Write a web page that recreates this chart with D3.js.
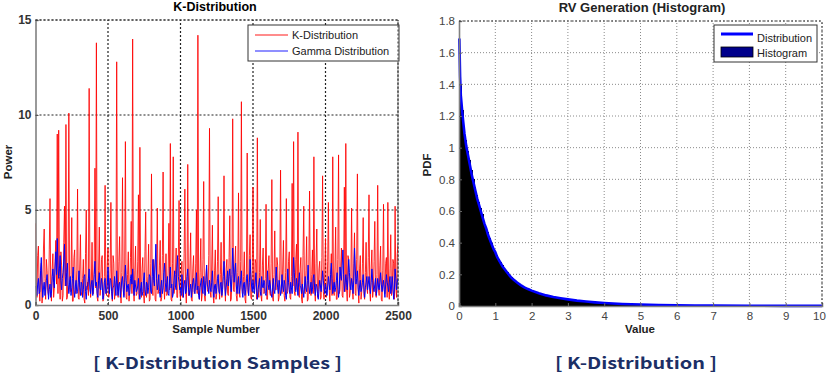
<!DOCTYPE html>
<html>
<head>
<meta charset="utf-8">
<script src="https://cdn.jsdelivr.net/npm/d3@7"></script>
<style>
body { margin: 0; background: #fff; }
svg { display: block; }
</style>
</head>
<body>
<div id="chart"></div>
<script>
// left panel: samples every 5th sample number
const sampleStep = 5;
const kSamples = [
  4.3,1.2,0.4,2.6,3.1,0.9,0.2,1.7,2.2,0.1,0.6,3.0,4.0,1.4,0.3,2.4,1.8,0.7,0.5,2.9,
  5.6,0.8,0.2,1.9,2.7,0.4,0.9,2.3,3.4,1.1,9.0,0.6,9.2,1.5,0.3,2.8,2.1,0.2,0.5,3.3,
  5.2,1.0,9.5,0.3,0.4,2.1,10.1,0.9,0.7,1.6,4.6,0.2,0.2,2.5,2.9,0.6,0.8,1.8,6.1,0.4,
  0.3,2.0,3.7,0.7,0.5,1.4,2.4,0.3,0.1,2.7,5.0,0.8,1.2,0.5,11.4,1.9,0.4,1.1,3.3,0.6,
  0.6,2.2,7.2,0.9,13.8,0.4,0.2,1.8,4.1,0.5,0.9,2.4,2.6,0.2,0.3,1.5,6.3,0.8,0.5,2.1,
  3.0,0.4,0.7,1.9,5.4,0.6,0.2,2.6,2.2,0.3,0.6,1.3,12.8,0.7,0.4,2.3,3.6,0.9,0.1,1.7,
  6.7,1.1,0.5,2.0,8.6,0.4,0.3,1.6,2.8,0.2,0.8,2.5,4.4,0.6,14.0,1.0,0.2,1.8,3.1,0.5,
  0.6,2.3,5.8,0.3,8.3,1.2,0.4,1.9,2.5,0.6,0.1,2.8,4.9,0.4,0.7,1.5,3.2,0.2,0.3,2.2,
  6.9,0.9,0.5,2.4,2.0,0.3,0.2,1.7,5.1,0.6,0.8,2.1,3.4,0.2,0.4,2.6,7.0,1.0,0.3,1.4,
  2.7,0.5,0.6,1.9,4.3,0.8,8.5,0.3,0.2,2.2,7.8,0.6,0.9,1.6,3.0,0.4,0.4,2.5,5.5,0.7,
  0.3,1.8,2.3,0.4,0.7,2.7,6.1,0.9,0.1,1.5,7.4,0.5,0.5,2.0,3.8,0.3,0.2,1.9,2.6,0.6,
  0.8,2.2,5.0,0.6,14.2,0.9,0.3,1.7,3.5,0.2,0.6,2.4,6.5,0.5,0.2,1.3,2.1,0.8,0.7,2.6,
  9.3,0.7,0.4,2.0,4.2,0.5,0.1,1.8,2.9,0.3,0.6,2.3,5.7,0.9,0.3,1.6,3.3,0.4,0.8,2.1,
  6.8,1.0,0.2,1.9,2.4,0.6,0.5,2.5,4.7,0.2,0.3,1.4,9.8,0.8,0.7,2.2,3.1,0.5,0.2,1.7,
  5.9,0.6,0.4,2.3,10.7,0.9,0.6,1.5,2.8,0.3,0.1,2.0,8.0,0.7,0.5,2.6,3.7,0.4,0.3,1.8,
  6.2,1.1,0.8,2.4,2.2,0.3,8.8,0.9,0.4,1.7,4.5,0.5,0.2,2.1,3.0,0.6,0.7,1.4,5.3,0.3,
  0.3,1.9,2.6,0.7,0.5,2.2,6.6,0.4,0.2,1.6,3.9,0.8,0.8,2.5,2.1,0.2,0.4,1.8,7.1,0.9,
  0.6,2.0,3.4,0.5,0.2,1.7,5.6,0.6,0.7,2.3,2.8,0.4,0.3,1.5,6.4,1.0,8.6,0.7,0.5,2.4,
  3.2,0.8,9.1,0.5,0.4,1.9,2.5,0.3,0.1,2.6,5.2,0.7,0.6,1.8,3.6,0.2,0.3,2.1,6.0,0.9,
  0.5,1.6,2.9,0.6,7.8,0.8,0.2,2.2,4.0,0.4,0.7,1.9,2.3,0.3,0.4,2.5,6.8,0.7,0.3,1.7,
  3.5,0.4,0.6,2.3,5.4,0.9,0.2,1.6,2.7,0.5,7.8,0.8,0.5,2.0,4.1,0.3,0.3,2.4,7.9,0.6,
  0.8,2.1,3.0,0.5,0.4,1.8,6.2,0.7,8.5,0.9,0.2,2.6,2.4,0.4,0.6,1.5,5.1,0.8,0.3,2.2,
  3.8,0.6,0.5,2.4,6.9,0.8,0.1,1.9,2.6,0.3,0.7,2.2,4.6,0.5,0.3,1.7,3.3,0.9,0.6,2.5,
  5.8,0.7,0.2,2.0,2.9,0.4,0.8,2.3,4.4,0.6,0.4,1.6,6.3,0.9,0.5,2.1,3.1,0.3,0.2,1.8,
  5.3,0.8,0.6,2.2,2.5,0.4,5.4,1.0,0.3,1.9,3.7,0.5,0.7,2.4,2.2,0.3,5.2,0.9,0.4,2.7,
  3.2
];
const gammaSamples = [
  1.0,0.7,0.5,1.1,1.4,0.6,0.7,1.8,2.5,1.2,0.4,0.9,1.2,0.5,0.8,1.3,1.6,0.9,0.3,0.8,
  1.1,0.4,0.6,1.5,1.9,1.2,0.9,2.0,2.8,1.6,3.5,2.1,1.4,1.9,2.6,1.3,0.8,1.4,1.7,2.3,
  3.2,1.5,1.0,1.7,2.2,1.1,0.6,1.2,1.5,0.5,0.9,1.4,2.0,0.8,0.4,1.0,1.3,0.6,0.7,1.2,
  1.8,0.9,0.5,1.2,1.1,0.4,0.8,1.5,1.6,0.7,0.3,1.0,1.0,1.4,1.9,0.8,0.6,1.1,1.3,0.5,
  0.9,1.6,2.3,1.0,1.2,0.6,0.4,1.3,1.7,0.9,0.8,1.4,1.1,0.3,0.5,1.2,1.4,0.6,0.7,1.0,
  2.0,1.1,0.6,1.4,1.3,0.7,0.3,0.9,1.0,1.5,0.9,0.5,1.8,1.0,0.5,1.1,1.2,0.4,0.8,1.3,
  1.5,0.8,0.4,1.2,2.1,1.3,0.7,1.0,1.1,0.5,0.6,1.4,1.6,1.1,1.9,0.9,0.5,1.3,1.0,0.7,
  0.8,1.0,1.4,0.6,0.3,0.9,1.2,0.5,0.7,1.3,1.7,0.8,0.5,1.2,1.1,0.6,0.9,1.6,1.5,0.7,
  0.6,1.5,2.4,1.3,1.0,2.0,3.2,1.4,0.8,1.1,1.6,0.7,0.4,1.0,1.3,0.6,0.9,1.7,2.2,1.2,
  0.7,1.1,1.5,0.6,0.5,1.4,2.0,0.9,1.1,0.4,0.6,1.3,1.8,1.0,0.8,1.9,2.6,1.5,1.2,0.8,
  0.9,0.5,1.6,1.0,0.4,1.1,1.3,0.6,0.7,1.5,1.9,0.9,0.5,0.8,1.1,0.4,0.8,1.2,1.4,0.7,
  0.6,1.2,1.7,0.8,1.0,0.5,0.3,0.9,1.2,1.4,0.8,0.6,1.5,1.0,0.5,1.3,2.1,1.1,0.9,0.6,
  1.3,0.9,0.7,1.2,1.8,0.8,0.4,1.0,1.1,0.6,0.9,1.4,1.6,0.7,0.6,1.1,1.2,0.5,0.8,1.5,
  2.3,1.3,0.5,0.9,1.4,1.8,1.0,1.5,1.9,1.1,0.7,1.6,3.0,2.0,1.2,1.7,2.2,1.0,0.6,1.1,
  1.5,0.6,0.9,1.3,1.8,0.7,0.4,1.1,1.2,0.5,0.8,1.4,1.6,0.9,0.5,1.2,2.4,1.6,1.0,0.7,
  1.3,0.8,0.6,1.1,1.7,0.9,0.3,0.8,1.1,1.4,0.7,0.5,1.5,1.0,0.9,1.3,1.2,0.6,0.5,1.0,
  1.8,1.1,0.8,1.3,1.0,0.6,0.4,0.9,1.4,0.8,0.6,1.2,2.0,1.4,0.9,0.6,1.3,1.0,0.5,0.8,
  1.6,1.0,0.7,1.3,1.1,0.5,0.3,1.0,1.9,1.2,0.8,0.6,1.2,0.9,0.6,1.4,2.5,1.7,1.0,0.7,
  1.4,0.9,0.5,1.2,1.7,1.0,0.9,0.6,1.1,0.8,0.4,1.0,1.5,0.9,0.7,1.3,2.1,1.1,0.6,0.9,
  1.2,0.6,0.8,1.4,1.6,0.9,0.5,1.1,1.0,0.6,0.3,0.8,1.3,1.0,0.7,1.2,1.8,1.3,0.9,0.6,
  1.1,0.8,0.5,1.0,1.5,1.1,0.8,1.6,2.2,1.4,0.6,0.9,1.2,0.7,0.9,1.3,1.7,1.0,0.4,0.8,
  2.0,1.5,1.3,2.1,2.9,1.6,0.7,1.1,1.6,1.2,0.8,1.5,2.4,1.7,1.0,0.8,1.4,1.1,0.6,1.3,
  3.0,2.0,1.1,1.4,1.8,0.9,0.5,1.0,1.3,0.7,0.9,1.2,1.6,0.8,0.4,0.9,1.2,1.5,0.8,1.1,
  1.5,0.9,0.6,1.2,1.9,1.3,0.9,0.7,1.1,1.4,0.5,0.8,1.4,1.0,0.8,1.2,1.7,1.1,0.7,1.0,
  1.3,0.8,0.4,1.1,1.6,1.2,1.0,0.7,1.2,1.5,0.6,0.9,1.5,1.0,0.3,0.8,1.9,1.4,0.8,1.2,
  1.4
];
const leftXTicks = [0, 500, 1000, 1500, 2000, 2500];
const leftYTicks = [0, 5, 10, 15];

// right panel: theoretical pdf and histogram (bin width 0.05)
const pdfX = [0.01,0.03,0.05,0.1,0.15,0.2,0.25,0.3,0.35,0.4,0.45,0.5,0.55,0.6,0.65,0.7,0.75,0.8,0.85,0.9,0.95,1.0,
  1.05,1.1,1.15,1.2,1.25,1.3,1.35,1.4,1.45,1.5,1.6,1.7,1.8,1.9,2.0,2.2,2.4,2.6,2.8,3.0,3.25,3.5,3.75,4.0,
  4.5,5.0,5.5,6.0,6.5,7,8,9,10];
const pdfY = [1.69,1.45,1.33,1.2,1.09,1.01,0.95,0.89,0.83,0.78,0.73,0.68,0.64,0.6,0.56,0.52,0.49,0.45,0.42,0.39,0.36,0.34,
  0.31,0.29,0.27,0.25,0.235,0.22,0.205,0.19,0.178,0.167,0.148,0.132,0.118,0.107,0.097,0.08,0.067,0.057,0.049,0.042,0.034,0.028,0.023,0.019,
  0.013,0.009,0.0065,0.0047,0.0034,0.0025,0.0014,0.0008,0.0005];
const binWidth = 0.05;
const histY = [
  1.40,1.24,1.13,1.05,0.98,0.92,0.86,0.80,0.75,0.70,
  0.66,0.62,0.58,0.54,0.50,0.47,0.43,0.40,0.37,0.35,
  0.32,0.30,0.28,0.26,0.24,0.228,0.212,0.197,0.184,0.172,
  0.162,0.152,0.143,0.135,0.127,0.12,0.114,0.108,0.102,0.097,
  0.092,0.088,0.084,0.08,0.077,0.073,0.07,0.067,0.064,0.062,
  0.059,0.057,0.055,0.053,0.051,0.049,0.047,0.046,0.044,0.042,
  0.041,0.039,0.038,0.036,0.035,0.034,0.032,0.031,0.030,0.029,
  0.028,0.027,0.026,0.025,0.024,0.023,0.022,0.021,0.020,0.019,
  0.018,0.018,0.017,0.016,0.016,0.015,0.014,0.014,0.013,0.013,
  0.012,0.012,0.011,0.011,0.010,0.010,0.010,0.009,0.009,0.009,
  0.008,0.008,0.008,0.007,0.007,0.007,0.007,0.006,0.006,0.006,
  0.006,0.006,0.005,0.005,0.005,0.005,0.005,0.005,0.004,0.004,
  0.004,0.004,0.004,0.004,0.004,0.003,0.003,0.003,0.003,0.003
];
const rightXTicks = [0,1,2,3,4,5,6,7,8,9,10];
const rightYTicks = [0,0.2,0.4,0.6,0.8,1,1.2,1.4,1.6,1.8];

const W = 827, H = 373;
const font = "'Liberation Sans', Arial, sans-serif";

const svg = d3.select("#chart").append("svg")
    .attr("width", W).attr("height", H)
    .style("background", "#fff");

// ---------- left panel ----------
const lx = d3.scaleLinear().domain([0, 2500]).range([35.5, 398]);
const ly = d3.scaleLinear().domain([0, 15]).range([305, 20]);
const left = svg.append("g");

// grid
left.append("g").selectAll("line").data(leftXTicks.slice(1)).enter().append("line")
    .attr("x1", d => lx(d)).attr("x2", d => lx(d))
    .attr("y1", ly(0)).attr("y2", ly(15))
    .attr("stroke", "#222").attr("stroke-width", 1.2).attr("stroke-dasharray", "2,2");
left.append("g").selectAll("line").data(leftYTicks.slice(1)).enter().append("line")
    .attr("x1", lx(0)).attr("x2", lx(2500))
    .attr("y1", d => ly(d)).attr("y2", d => ly(d))
    .attr("stroke", "#222").attr("stroke-width", 1.2).attr("stroke-dasharray", "2,2");

left.append("defs").append("clipPath").attr("id", "clipL")
    .append("rect").attr("x", lx(0)).attr("y", ly(15))
    .attr("width", lx(2500) - lx(0)).attr("height", ly(0) - ly(15));

const lineL = d3.line().x((d, i) => lx(i * sampleStep)).y(d => ly(d));
left.append("path").datum(kSamples)
    .attr("clip-path", "url(#clipL)")
    .attr("fill", "none").attr("stroke", "#ff0000").attr("stroke-width", 0.85)
    .attr("d", lineL);
left.append("path").datum(gammaSamples)
    .attr("clip-path", "url(#clipL)")
    .attr("fill", "none").attr("stroke", "#0000ff").attr("stroke-width", 1)
    .attr("d", lineL);

// axes
const axL = left.append("g").attr("transform", "translate(" + lx(0) + ",0)")
    .call(d3.axisLeft(ly).tickValues(leftYTicks).tickSize(-3).tickPadding(4));
const axB = left.append("g").attr("transform", "translate(0," + ly(0) + ")")
    .call(d3.axisBottom(lx).tickValues(leftXTicks).tickFormat(d3.format("d")).tickSize(-3).tickPadding(6));
[axL, axB].forEach(a => {
    a.select(".domain").attr("stroke", "#808080").attr("stroke-width", 1.6);
    a.selectAll(".tick line").attr("stroke", "#555");
    a.selectAll("text").style("font-family", font).style("font-size", "12px")
        .style("font-weight", "bold").attr("fill", "#333");
});

// legend
const legL = left.append("g");
legL.append("rect").attr("x", 248).attr("y", 25).attr("width", 151).attr("height", 36)
    .attr("fill", "#fff").attr("stroke", "#333").attr("stroke-width", 1);
[["K-Distribution", "#ff6666", 35], ["Gamma Distribution", "#6a6aff", 51]].forEach(e => {
    legL.append("line").attr("x1", 255).attr("x2", 288).attr("y1", e[2]).attr("y2", e[2])
        .attr("stroke", e[1]).attr("stroke-width", 1.5);
    legL.append("text").attr("x", 292).attr("y", e[2] + 4)
        .style("font-family", font).style("font-size", "11px").attr("fill", "#222")
        .text(e[0]);
});

left.append("text").attr("x", 215).attr("y", 11).attr("text-anchor", "middle")
    .style("font-family", font).style("font-size", "12.5px").style("font-weight", "bold")
    .text("K-Distribution");
left.append("text").attr("x", 216).attr("y", 333).attr("text-anchor", "middle")
    .style("font-family", font).style("font-size", "11.5px").style("font-weight", "bold")
    .attr("fill", "#222").text("Sample Number");
left.append("text").attr("transform", "translate(12,162) rotate(-90)").attr("text-anchor", "middle")
    .style("font-family", font).style("font-size", "11.5px").style("font-weight", "bold")
    .attr("fill", "#222").text("Power");

// ---------- right panel ----------
const rx = d3.scaleLinear().domain([0, 10]).range([459, 822]);
const ry = d3.scaleLinear().domain([0, 1.8]).range([306, 21]);
const right = svg.append("g");

right.append("g").selectAll("line").data(rightXTicks.slice(1)).enter().append("line")
    .attr("x1", d => rx(d)).attr("x2", d => rx(d))
    .attr("y1", ry(0)).attr("y2", ry(1.8))
    .attr("stroke", "#8a8a8a").attr("stroke-width", 1).attr("stroke-dasharray", "1,2");
right.append("g").selectAll("line").data(rightYTicks.slice(1)).enter().append("line")
    .attr("x1", rx(0)).attr("x2", rx(10))
    .attr("y1", d => ry(d)).attr("y2", d => ry(d))
    .attr("stroke", "#8a8a8a").attr("stroke-width", 1).attr("stroke-dasharray", "1,2");

right.append("g").attr("shape-rendering", "crispEdges")
    .selectAll("rect").data(histY).enter().append("rect")
    .attr("x", (d, i) => rx(i * binWidth))
    .attr("width", (d, i) => rx((i + 1) * binWidth) - rx(i * binWidth) + 1)
    .attr("y", d => ry(d))
    .attr("height", d => ry(0) - ry(d))
    .attr("fill", "#000");

right.append("path").datum(pdfX.map((x, i) => [x, pdfY[i]]))
    .attr("fill", "none").attr("stroke", "#0000ff").attr("stroke-width", 2.6)
    .attr("d", d3.line().x(d => rx(d[0])).y(d => ry(d[1])));

const axRL = right.append("g").attr("transform", "translate(" + rx(0) + ",0)")
    .call(d3.axisLeft(ry).tickValues(rightYTicks).tickFormat(d3.format("~g")).tickSize(-3).tickPadding(4));
const axRB = right.append("g").attr("transform", "translate(0," + ry(0) + ")")
    .call(d3.axisBottom(rx).tickValues(rightXTicks).tickSize(-3).tickPadding(6));
[axRL, axRB].forEach(a => {
    a.select(".domain").attr("stroke", "#808080").attr("stroke-width", 1.6);
    a.selectAll(".tick line").attr("stroke", "#666");
    a.selectAll("text").style("font-family", font).style("font-size", "11.5px").attr("fill", "#444");
});
// last x label sits against the page edge
axRB.selectAll(".tick text").filter(d => d === 10).attr("dx", -3);

const legR = right.append("g");
legR.append("rect").attr("x", 714).attr("y", 25).attr("width", 103).attr("height", 37)
    .attr("fill", "#fff").attr("stroke", "#333").attr("stroke-width", 1);
legR.append("line").attr("x1", 721).attr("x2", 753).attr("y1", 34).attr("y2", 34)
    .attr("stroke", "#0000ff").attr("stroke-width", 3);
legR.append("rect").attr("x", 721).attr("y", 47).attr("width", 32).attr("height", 10)
    .attr("fill", "#00008b").attr("stroke", "#000").attr("stroke-width", 0.8);
[["Distribution", 41.5], ["Histogram", 57]].forEach(e => {
    legR.append("text").attr("x", 757).attr("y", e[1])
        .style("font-family", font).style("font-size", "11px").attr("fill", "#222").text(e[0]);
});

right.append("text").attr("x", 642).attr("y", 12).attr("text-anchor", "middle")
    .style("font-family", font).style("font-size", "13px").style("font-weight", "bold")
    .attr("fill", "#222").text("RV Generation (Histogram)");
right.append("text").attr("x", 640).attr("y", 333).attr("text-anchor", "middle")
    .style("font-family", font).style("font-size", "11.5px").style("font-weight", "bold")
    .attr("fill", "#222").text("Value");
right.append("text").attr("transform", "translate(431,165) rotate(-90)").attr("text-anchor", "middle")
    .style("font-family", font).style("font-size", "11.5px").style("font-weight", "bold")
    .attr("fill", "#222").text("PDF");

// plot frames (dotted top / right)
[[lx, ly, 2500, 15], [rx, ry, 10, 1.8]].forEach(p => {
    const [sx, sy, xm, ym] = p;
    svg.append("path")
        .attr("d", "M" + sx(0) + "," + sy(ym) + "H" + sx(xm) + "V" + sy(0))
        .attr("fill", "none").attr("stroke", "#333").attr("stroke-width", 1)
        .attr("stroke-dasharray", "2,2");
});

// captions
const capFont = "'Noto Sans CJK KR', 'Noto Sans', sans-serif";
svg.append("text").attr("x", 93).attr("y", 369)
    .attr("textLength", 249).attr("lengthAdjust", "spacingAndGlyphs")
    .style("font-family", capFont).style("font-size", "16px").style("font-weight", "bold")
    .attr("fill", "#1c2f66").text("[ K-Distribution Samples ]");
svg.append("text").attr("x", 555).attr("y", 369)
    .attr("textLength", 162).attr("lengthAdjust", "spacingAndGlyphs")
    .style("font-family", capFont).style("font-size", "16px").style("font-weight", "bold")
    .attr("fill", "#1c2f66").text("[ K-Distribution ]");
</script>
</body>
</html>
